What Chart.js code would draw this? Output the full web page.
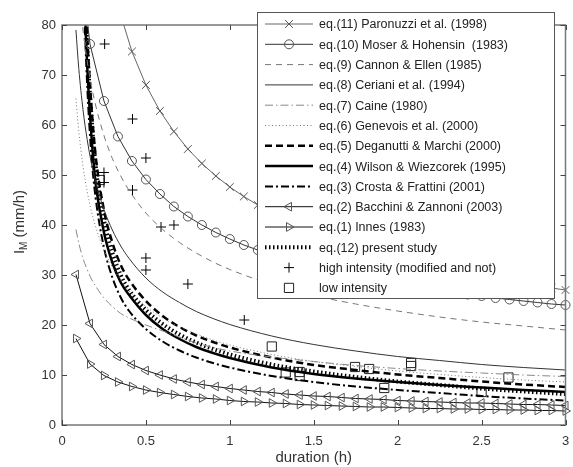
<!DOCTYPE html>
<html>
<head>
<meta charset="utf-8">
<script src="https://cdn.jsdelivr.net/npm/chart.js@4.4.0/dist/chart.umd.min.js"></script>
<style>
  html, body { margin: 0; padding: 0; background: #fff; }
  canvas { display: block; }
</style>
</head>
<body>
<canvas id="chart" width="573" height="467"></canvas>
<script>
// durations (min) of the curves drawn with a symbol every 5 minutes
const markerMinutes = [5, 10, 15, 20, 25, 30, 35, 40, 45, 50, 55, 60, 65, 70, 75, 80, 85, 90,
  95, 100, 105, 110, 115, 120, 125, 130, 135, 140, 145, 150, 155, 160, 165, 170, 175, 180];
// durations (h)
const lineHours = [0.083, 0.1, 0.125, 0.15, 0.175, 0.2, 0.25, 0.3, 0.35, 0.4, 0.5, 0.6, 0.7, 0.8, 0.9, 1, 1.25, 1.5, 1.75, 2, 2.25, 2.5, 2.75, 3];

// intensity (mm/h) per curve
const paronuzziI = [171, 119.8, 97.2, 83.8, 74.7, 68.0, 62.8, 58.7, 55.2, 52.3, 49.8, 47.6, 45.7, 44.0, 42.4, 41.0, 39.8, 38.6,
  37.6, 36.6, 35.7, 34.8, 34.0, 33.3, 32.6, 32.0, 31.3, 30.8, 30.2, 29.7, 29.2, 28.7, 28.3, 27.8, 27.4, 27.0];
const moserI = [100.5, 76.2, 64.8, 57.7, 52.8, 49.1, 46.2, 43.7, 41.7, 40.0, 38.5, 37.2, 36.0, 35.0, 34.0, 33.2, 32.4, 31.6,
  31.0, 30.3, 29.7, 29.2, 28.7, 28.2, 27.7, 27.3, 26.9, 26.5, 26.1, 25.8, 25.4, 25.1, 24.8, 24.5, 24.2, 24.0];
const bacchiniI = [30.1, 20.3, 16.1, 13.7, 12.1, 10.9, 10.0, 9.2, 8.6, 8.1, 7.7, 7.3, 7.0, 6.7, 6.5, 6.2, 6.0, 5.8,
  5.7, 5.5, 5.3, 5.2, 5.1, 4.9, 4.8, 4.7, 4.6, 4.5, 4.4, 4.4, 4.3, 4.2, 4.1, 4.1, 4.0, 3.9];
const innesI = [17.3, 12.2, 9.9, 8.6, 7.7, 7.0, 6.5, 6.1, 5.7, 5.4, 5.2, 4.9, 4.7, 4.6, 4.4, 4.3, 4.1, 4.0,
  3.9, 3.8, 3.7, 3.6, 3.6, 3.5, 3.4, 3.3, 3.3, 3.2, 3.2, 3.1, 3.1, 3.0, 3.0, 2.9, 2.9, 2.8];

const cannonI = [94.9, 87.3, 79.0, 72.8, 67.9, 64.0, 57.9, 53.3, 49.8, 46.9, 42.4, 39.1, 36.5, 34.4, 32.6, 31.1, 28.1, 25.9, 24.2, 22.8, 21.6, 20.6, 19.8, 19.0];
const cerianiI = [79.0, 71.3, 63.1, 57.1, 52.4, 48.7, 43.1, 39.0, 35.8, 33.3, 29.4, 26.6, 24.5, 22.7, 21.3, 20.1, 17.8, 16.1, 14.8, 13.7, 12.9, 12.1, 11.5, 11.0];
const caineI = [39.1, 36.4, 33.3, 31.1, 29.2, 27.8, 25.4, 23.7, 22.3, 21.4, 20.0, 18.8, 17.6, 16.4, 15.5, 14.8, 13.6, 12.7, 11.9, 11.3, 10.8, 10.4, 10.0, 9.7];
const genevoisI = [65.3, 58.8, 51.8, 46.7, 42.8, 39.7, 35.0, 31.6, 29.0, 26.8, 23.7, 21.4, 19.6, 18.2, 17.0, 16.0, 14.1, 12.7, 11.7, 10.8, 10.1, 9.5, 9.0, 8.6];
const deganuttiI = [150, 125, 98, 78, 64, 54, 43, 36.5, 32, 29, 24.8, 21.8, 19.6, 17.9, 16.6, 15.5, 13.5, 12.0, 11.0, 10.1, 9.4, 8.7, 8.1, 7.6];
const wilsonI = [160, 130, 95, 72, 58, 48.5, 38.5, 32.5, 28.5, 26, 22, 19.2, 17.2, 15.6, 14.4, 13.4, 11.5, 10.2, 9.3, 8.6, 8.0, 7.5, 7.0, 6.6];
const crostaI = [150, 120, 90, 68, 54, 45.5, 35.5, 29.5, 25.5, 22.8, 19.2, 16.7, 14.9, 13.5, 12.4, 11.5, 9.8, 8.6, 7.7, 7.0, 6.4, 5.8, 5.3, 4.9];
const presentI = [150, 125, 96, 76, 62, 52, 41, 34.5, 30, 27, 23, 20.2, 18.1, 16.5, 15.2, 14.1, 12.1, 10.7, 9.6, 8.7, 8.0, 7.3, 6.7, 6.2];

// observed events
const highHours = [0.254, 0.42, 0.5, 0.42, 0.59, 0.667, 0.5, 0.5, 0.75, 1.086, 0.25, 0.25];
const highI = [76.2, 61.2, 53.4, 47, 39.6, 40, 33.4, 31, 28.2, 21, 50.5, 48.5];
const lowHours = [0.225, 1.25, 1.333, 1.416, 1.416, 1.746, 1.83, 1.92, 2.08, 2.08, 2.5, 2.66];
const lowI = [49, 15.7, 10.5, 10.6, 9.8, 11.6, 11.2, 7.4, 12.4, 11.8, 6.6, 9.5];

const xTicks = [0, 0.5, 1, 1.5, 2, 2.5, 3];
const yTicks = [0, 10, 20, 30, 40, 50, 60, 70, 80];

const FONT = "'Liberation Sans', Arial, sans-serif";

function pts(xs, ys) {
  return xs.map((x, i) => ({ x: x, y: ys[i] }));
}
const markerHours = markerMinutes.map((m) => m / 60);

function curve(label, ys, color, width, dash) {
  return {
    label, data: pts(lineHours, ys), showLine: true,
    borderColor: color, borderWidth: width, borderDash: dash || [],
    pointRadius: 0, cubicInterpolationMode: "monotone",
  };
}
function markedCurve(label, ys, color, style, radius, rotation) {
  return {
    label, data: pts(markerHours, ys), showLine: true,
    borderColor: color, borderWidth: 1, borderDash: [],
    pointStyle: style, pointRadius: radius, pointRotation: rotation || 0,
    pointBorderColor: "#555", pointBorderWidth: 1, pointBackgroundColor: "rgba(0,0,0,0)",
  };
}

const datasets = [
  markedCurve("eq.(11) Paronuzzi et al. (1998)", paronuzziI, "#666", "crossRot", 5.5),
  markedCurve("eq.(10) Moser & Hohensin  (1983)", moserI, "#333", "circle", 4.5),
  curve("eq.(9) Cannon & Ellen (1985)", cannonI, "#777", 1, [6, 5]),
  curve("eq.(8) Ceriani et al. (1994)", cerianiI, "#333", 1),
  curve("eq.(7) Caine (1980)", caineI, "#888", 1, [8, 3, 1.5, 3]),
  curve("eq.(6) Genevois et al. (2000)", genevoisI, "#777", 1, [1, 2.5]),
  curve("eq.(5) Deganutti & Marchi (2000)", deganuttiI, "#000", 2.5, [7, 4]),
  curve("eq.(4) Wilson & Wiezcorek (1995)", wilsonI, "#000", 2.5),
  curve("eq.(3) Crosta & Frattini (2001)", crostaI, "#000", 2, [8, 3, 2, 3]),
  markedCurve("eq.(2) Bacchini & Zannoni (2003)", bacchiniI, "#111", "triangle", 5, -90),
  markedCurve("eq.(1) Innes (1983)", innesI, "#111", "triangle", 5, 90),
  curve("eq.(12) present study", presentI, "#000", 4, [1.5, 2.5]),
  {
    label: "high intensity (modified and not)", data: pts(highHours, highI), showLine: false,
    pointStyle: "cross", pointRadius: 5, pointBorderColor: "#000", pointBorderWidth: 1,
    borderColor: "#000", borderWidth: 0,
  },
  {
    label: "low intensity", data: pts(lowHours, lowI), showLine: false,
    pointStyle: "rect", pointRadius: 6.5, pointBorderColor: "#222", pointBorderWidth: 1,
    pointBackgroundColor: "rgba(0,0,0,0)", borderColor: "#222", borderWidth: 0,
  },
];
datasets.forEach((d) => { d.clip = { left: 6, top: 0, right: 8, bottom: 6 }; });

// frame, inward ticks and axis titles
const frame = {
  id: "frame",
  afterDatasetsDraw(chart) {
    const { ctx, chartArea: a, scales } = chart;
    ctx.save();
    ctx.strokeStyle = "#777";
    ctx.lineWidth = 1.5;
    ctx.strokeRect(a.left, a.top, a.right - a.left, a.bottom - a.top);
    ctx.strokeStyle = "#444";
    ctx.lineWidth = 1;
    ctx.beginPath();
    xTicks.forEach((v) => {
      const x = Math.round(scales.x.getPixelForValue(v)) + 0.5;
      ctx.moveTo(x, a.bottom); ctx.lineTo(x, a.bottom - 5);
      ctx.moveTo(x, a.top); ctx.lineTo(x, a.top + 5);
    });
    yTicks.forEach((v) => {
      const y = Math.round(scales.y.getPixelForValue(v)) + 0.5;
      ctx.moveTo(a.left, y); ctx.lineTo(a.left + 5, y);
      ctx.moveTo(a.right, y); ctx.lineTo(a.right - 5, y);
    });
    ctx.stroke();

    ctx.fillStyle = "#333";
    ctx.textBaseline = "middle";
    ctx.textAlign = "center";
    ctx.font = "15px " + FONT;
    ctx.fillText("duration (h)", (a.left + a.right) / 2, 458);

    // y title with subscript
    ctx.translate(20, 222);
    ctx.rotate(-Math.PI / 2);
    ctx.textAlign = "left";
    const big = "15px " + FONT, small = "10px " + FONT;
    ctx.font = big; const w1 = ctx.measureText("I").width;
    ctx.font = small; const w2 = ctx.measureText("M").width;
    ctx.font = big; const w3 = ctx.measureText(" (mm/h)").width;
    let x0 = -(w1 + w2 + w3) / 2;
    ctx.fillText("I", x0, 0);
    ctx.font = small; ctx.fillText("M", x0 + w1, 4);
    ctx.font = big; ctx.fillText(" (mm/h)", x0 + w1 + w2, 0);
    ctx.restore();
  },
};

// legend box laid over the upper right of the plot
const legendBox = {
  id: "legendBox",
  afterDraw(chart) {
    const ctx = chart.ctx;
    ctx.save();
    ctx.fillStyle = "#fff";
    ctx.fillRect(257.5, 12.5, 297, 286);
    ctx.strokeStyle = "#555";
    ctx.lineWidth = 1;
    ctx.strokeRect(257.5, 12.5, 297, 286);
    chart.data.datasets.forEach((ds, i) => {
      const y = 24 + i * 20.3;
      if (ds.showLine) {
        ctx.beginPath();
        ctx.setLineDash(ds.borderDash);
        ctx.lineWidth = ds.borderWidth;
        ctx.strokeStyle = ds.borderColor;
        ctx.moveTo(265, y);
        ctx.lineTo(313, y);
        ctx.stroke();
        ctx.setLineDash([]);
      }
      if (ds.pointRadius > 0) {
        ctx.strokeStyle = ds.pointBorderColor;
        ctx.fillStyle = "rgba(0,0,0,0)";
        ctx.lineWidth = ds.pointBorderWidth;
        Chart.helpers.drawPoint(ctx, {
          pointStyle: ds.pointStyle, rotation: ds.pointRotation || 0,
          radius: ds.pointRadius, borderWidth: ds.pointBorderWidth,
        }, 289, y);
      }
      ctx.fillStyle = "#222";
      ctx.font = "12.5px " + FONT;
      ctx.textAlign = "left";
      ctx.textBaseline = "middle";
      ctx.fillText(ds.label, 319, y + 1);
    });
    ctx.restore();
  },
};

new Chart(document.getElementById("chart"), {
  type: "scatter",
  data: { datasets },
  options: {
    responsive: false,
    animation: false,
    devicePixelRatio: 1,
    layout: { padding: { top: 25, right: 2, left: 0, bottom: 0 } },
    plugins: { legend: { display: false }, tooltip: { enabled: false } },
    scales: {
      x: {
        type: "linear", min: 0, max: 3,
        border: { display: false },
        grid: { drawOnChartArea: false, drawTicks: false },
        ticks: {
          stepSize: 0.5, padding: 9, color: "#333", font: { family: FONT, size: 13 },
          callback: (v) => String(v),
        },
        afterFit(s) { s.height = 42; s.paddingLeft = 0; s.paddingRight = 0; },
      },
      y: {
        min: 0, max: 80,
        border: { display: false },
        grid: { drawOnChartArea: false, drawTicks: false },
        ticks: { stepSize: 10, padding: 6, color: "#333", font: { family: FONT, size: 13 } },
        afterFit(s) { s.width = 62; s.paddingTop = 0; s.paddingBottom = 0; },
      },
    },
  },
  plugins: [frame, legendBox],
});
</script>
</body>
</html>
